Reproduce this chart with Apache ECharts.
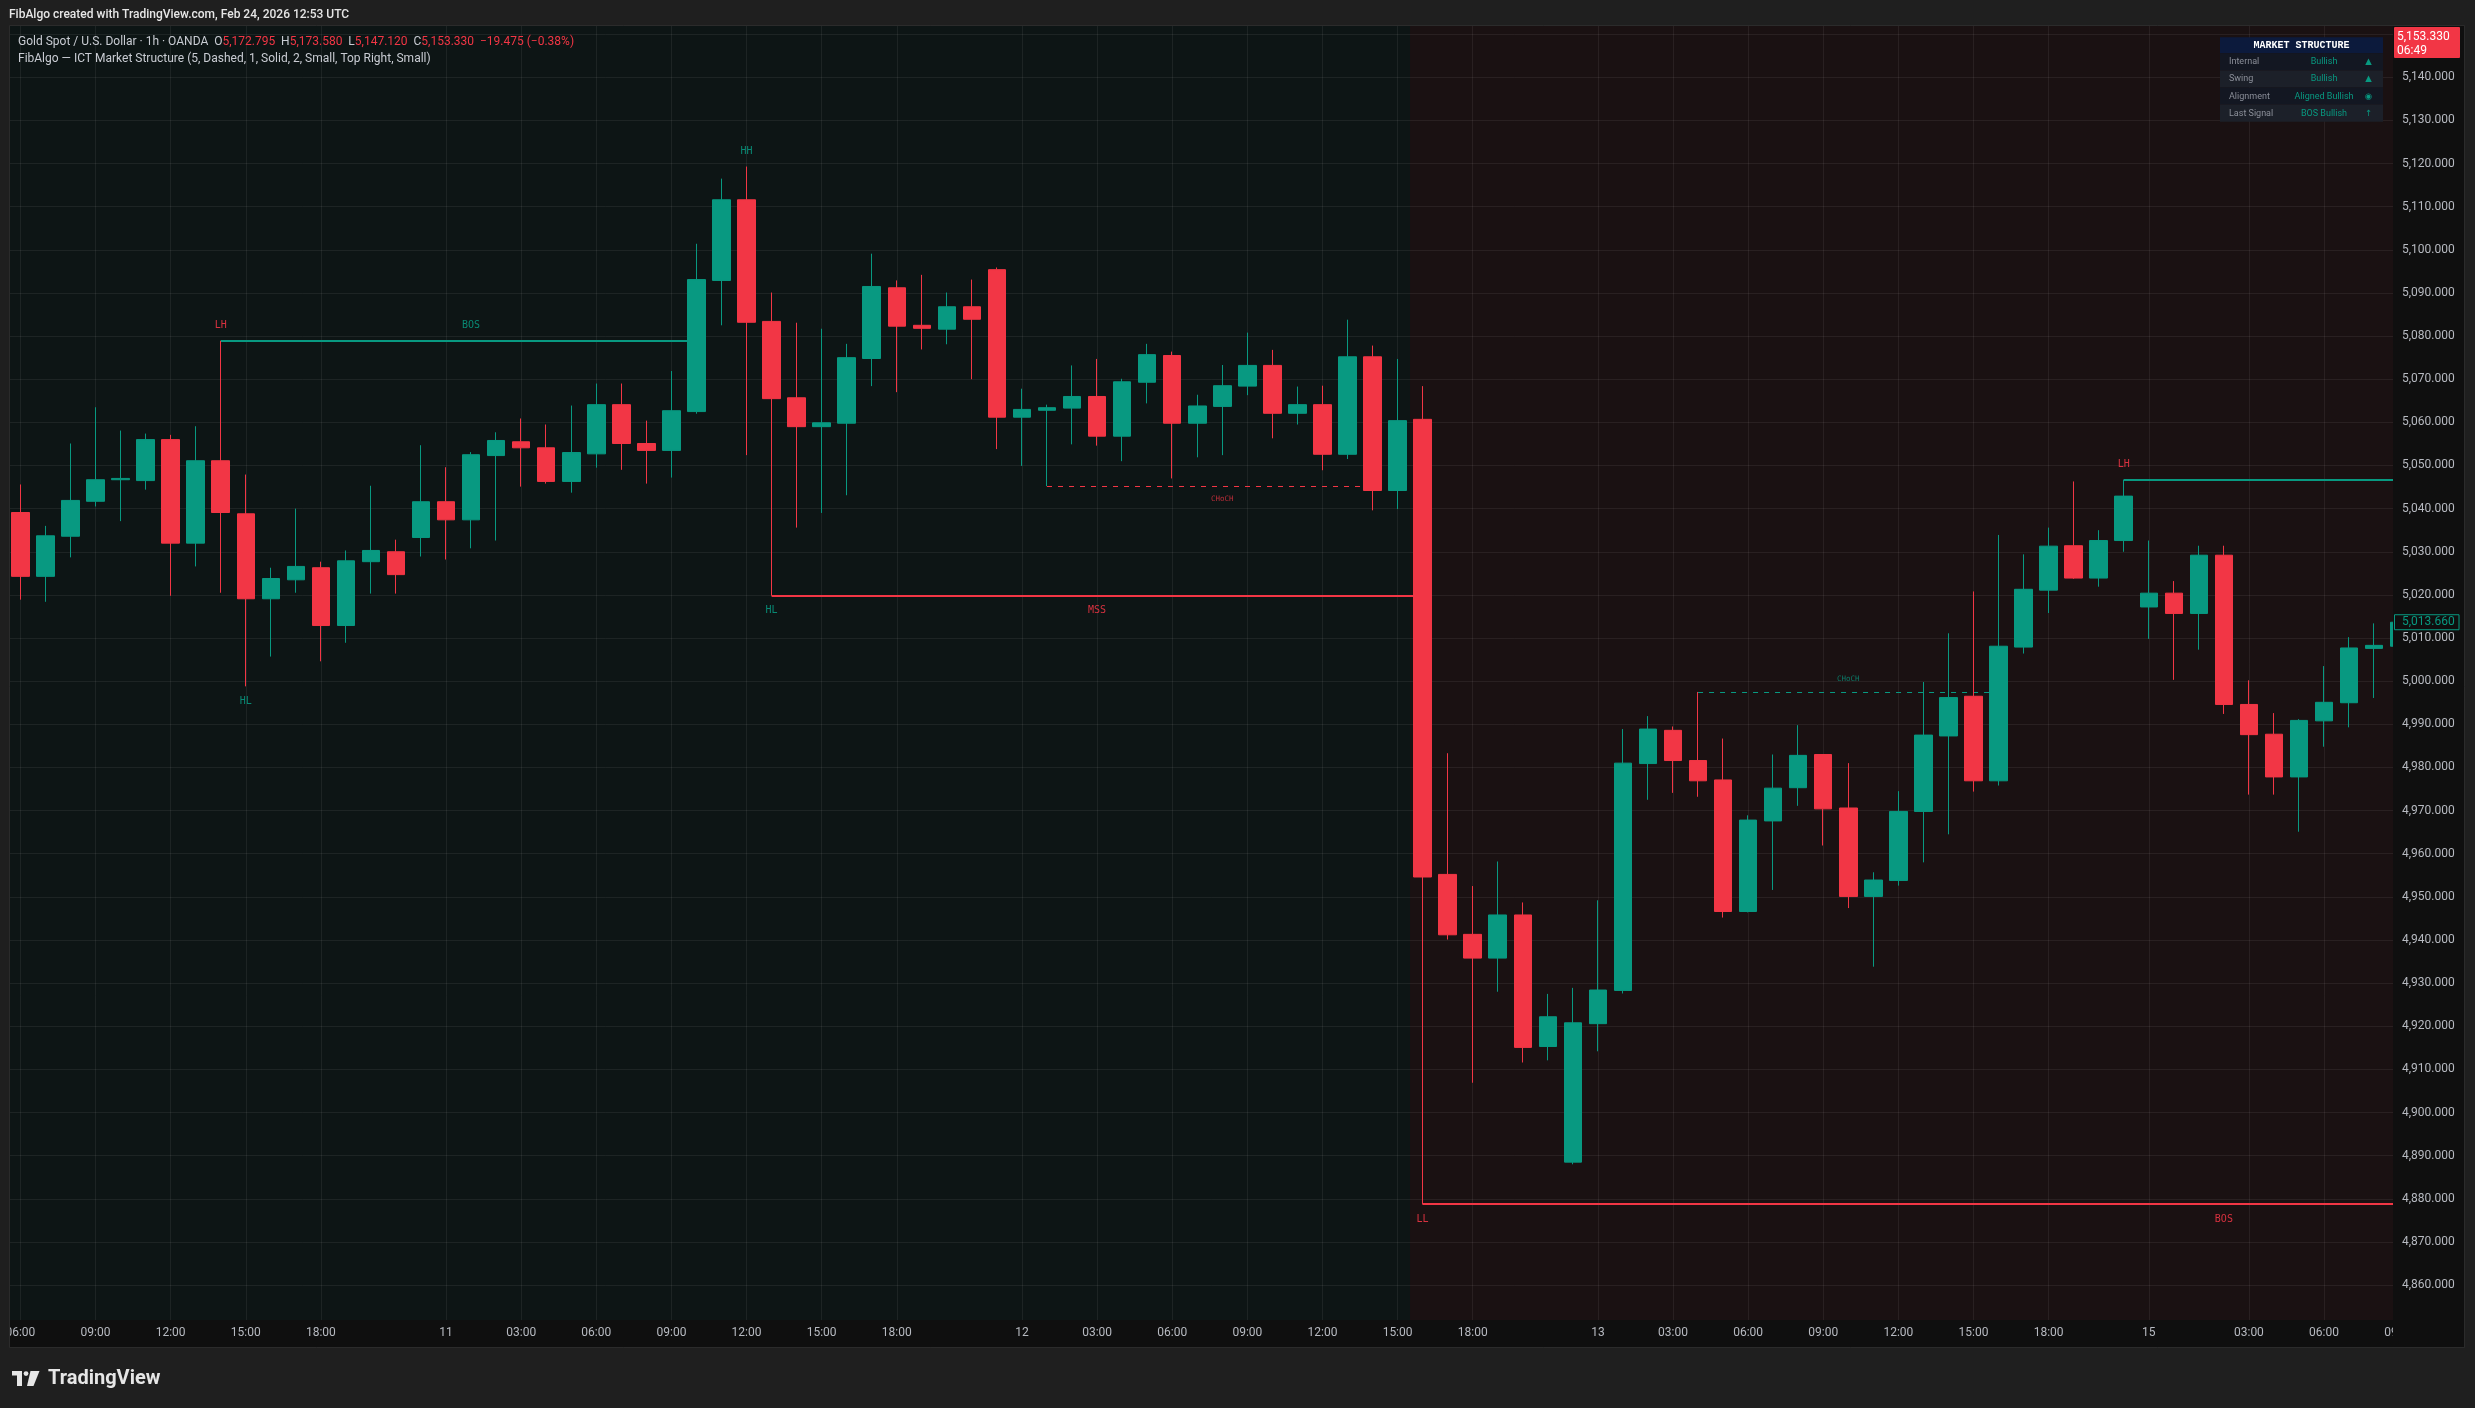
<!DOCTYPE html>
<html>
<head>
<meta charset="utf-8">
<script src="https://cdn.jsdelivr.net/npm/echarts@6/dist/echarts.min.js"></script>
<style>
html,body{margin:0;padding:0;background:#1f1f1f;overflow:hidden;}
#c{width:2475px;height:1408px;}
</style>
</head>
<body>
<div id="c"></div>
<script>
// ---------------- DATA ----------------
const opens = [5039.1,5024.3,5033.6,5041.7,5046.7,5046.5,5056.0,5032.0,5051.1,5038.8,
5019.1,5023.5,5026.3,5012.9,5027.7,5030.0,5033.3,5041.6,5037.4,5052.3,
5055.5,5054.1,5046.3,5052.7,5064.1,5055.1,5053.5,5062.5,5092.9,5111.6,
5083.4,5065.7,5059.0,5059.8,5074.8,5091.2,5082.5,5081.6,5086.8,5095.4,
5061.2,5062.8,5063.3,5066.0,5056.8,5069.3,5075.5,5059.8,5063.7,5068.4,
5073.2,5062.1,5064.1,5052.6,5075.2,5044.2,5060.7,4955.2,4941.3,4935.8,
4945.8,4915.3,4888.5,4920.6,4928.3,4980.9,4988.6,4981.6,4977.1,4946.6,
4967.6,4975.3,4983.0,4970.6,4950.1,4953.8,4969.8,4987.3,4996.5,4976.9,
5007.9,5021.1,5031.4,5023.9,5032.6,5017.2,5020.4,5015.7,5029.2,4994.6,
4987.7,4977.8,4990.8,4995.0,5007.6,5008.1];
const closes = [5024.3,5033.7,5041.9,5046.7,5047.0,5056.0,5032.0,5051.1,5039.1,5019.1,
5023.8,5026.6,5012.9,5027.9,5030.3,5024.7,5041.6,5037.4,5052.5,5055.8,
5054.1,5046.3,5053.0,5064.1,5055.1,5053.5,5062.7,5093.1,5111.6,5083.2,
5065.5,5059.0,5059.9,5075.0,5091.5,5082.3,5081.8,5086.8,5083.9,5061.2,
5063.0,5063.4,5066.0,5056.8,5069.4,5075.7,5059.8,5063.8,5068.5,5073.2,
5062.1,5064.1,5052.6,5075.2,5044.2,5060.4,4954.6,4941.2,4935.8,4945.8,
4915.1,4922.2,4920.8,4928.4,4981.0,4988.9,4981.6,4976.9,4946.6,4967.8,
4975.2,4982.8,4970.4,4950.1,4953.9,4969.8,4987.5,4996.2,4976.9,5008.1,
5021.3,5031.3,5023.9,5032.6,5042.9,5020.4,5015.7,5029.2,4994.6,4987.6,
4977.8,4990.9,4995.1,5007.7,5008.3,5013.66];
const lows = [5018.9,5018.4,5028.7,5040.5,5037.1,5044.4,5019.8,5026.6,5020.5,4998.8,
5005.7,5020.5,5004.6,5008.9,5020.3,5020.3,5028.9,5028.2,5030.8,5032.6,
5045.1,5045.8,5043.7,5049.5,5049.0,5045.8,5047.2,5062.0,5082.5,5052.4,
5019.8,5035.6,5039.0,5043.1,5068.4,5067.0,5076.9,5078.1,5070.0,5053.8,
5049.9,5045.2,5054.9,5054.6,5051.0,5064.4,5047.0,5051.9,5052.4,5066.3,
5056.3,5059.5,5048.9,5051.5,5039.6,5039.9,4878.7,4940.1,4906.9,4928.0,
4911.6,4912.1,4888.0,4914.2,4927.6,4972.5,4974.1,4973.2,4945.2,4946.4,
4951.6,4971.1,4961.9,4947.4,4933.8,4952.6,4958.0,4964.5,4974.4,4975.8,
5006.4,5015.8,5023.7,5021.9,5030.0,5009.8,5000.3,5007.3,4992.4,4973.7,
4973.7,4965.1,4984.8,4989.3,4996.1,5006.0];
const highs = [5045.6,5036.0,5055.1,5063.5,5058.1,5057.4,5057.1,5059.1,5078.9,5047.9,
5026.3,5040.0,5027.7,5030.3,5045.3,5032.8,5054.7,5049.6,5053.1,5057.7,
5060.9,5059.5,5063.9,5069.0,5069.0,5060.4,5071.9,5101.4,5116.5,5119.3,
5090.1,5083.1,5081.7,5078.2,5099.1,5092.9,5094.2,5090.1,5093.1,5095.9,
5067.8,5064.1,5073.2,5074.7,5070.1,5078.2,5076.4,5066.4,5073.3,5080.8,
5076.8,5068.3,5068.5,5083.8,5077.8,5074.7,5068.4,4983.3,4952.5,4958.2,
4948.7,4927.5,4928.9,4949.2,4988.9,4991.9,4989.5,4997.5,4986.7,4968.9,
4983.0,4989.8,4983.1,4981.0,4955.7,4974.5,4999.8,5011.1,5020.8,5033.9,
5029.4,5035.6,5046.3,5035.0,5046.7,5032.6,5023.2,5031.4,5031.4,5000.2,
4992.6,4991.2,5003.5,5010.2,5013.4,5016.0];

// time-axis tick labels (bar index -> text)
const tickIndex = [1,4,7,10,13,18,21,24,27,30,33,36,41,44,47,50,53,56,59,64,67,70,73,76,79,82,86,90,93,96];
const tickText  = ['06:00','09:00','12:00','15:00','18:00','11','03:00','06:00','09:00','12:00','15:00','18:00',
                   '12','03:00','06:00','09:00','12:00','15:00','18:00','13','03:00','06:00','09:00','12:00',
                   '15:00','18:00','15','03:00','06:00','09:00'];

// price axis
const priceMin = 4850, priceMax = 5160, priceStep = 10;

// trend background zones [fromBar, toBar]
const zoneSpan = [[0, 56], [57, 97]];
const zoneBias = ['bull', 'bear'];

// structure lines [fromBar, toBar, price]
const structLines = [[9, 28, 5078.9], [31, 57, 5019.8], [42, 56, 5045.2], [57, 97, 4878.7], [68, 80, 4997.5], [85, 97, 5046.7]];
const structBias  = ['bull', 'bear', 'bear', 'bear', 'bull', 'bull'];
const structKind  = ['BOS', 'MSS', 'CHoCH', 'BOS', 'CHoCH', 'BOS'];

// structure texts [spanFrom, spanTo, price]
const structTextAt   = [[9, 29, 5078.9], [31, 57, 5019.8], [42, 56, 5045.2], [89, 89, 4878.7], [68, 80, 4997.5]];
const structText     = ['BOS', 'MSS', 'CHoCH', 'BOS', 'CHoCH'];
const structTextBias = ['bull', 'bear', 'bear', 'bear', 'bull'];
const structTextSide = ['above', 'below', 'below', 'below', 'above'];

// swing point labels
const swingAt    = [9, 10, 30, 31, 57, 85];
const swingPrice = [5078.9, 4998.8, 5119.3, 5019.8, 4878.7, 5046.7];
const swingText  = ['LH', 'HL', 'HH', 'HL', 'LL', 'LH'];

// price tags
const lastPrice = 5013.66;

// ---------------- BUILD ----------------
const BULL = '#089981', BEAR = '#f23645';
const col = b => b === 'bull' ? BULL : BEAR;
const categories = Array.from({length: 98}, (_, i) => String(i));
const tickMap = {}; tickIndex.forEach((t, k) => tickMap[t] = tickText[k]);
const candles = opens.map((o, k) => [k + 1, o, closes[k], lows[k], highs[k]]);
const fmtPrice = v => v.toLocaleString('en-US', {minimumFractionDigits: 3, maximumFractionDigits: 3});

const labelData = [], labelMeta = [];
swingAt.forEach((a, k) => {
  labelData.push([a, a, swingPrice[k]]);
  const t = swingText[k];
  labelMeta.push({text: t, color: (t === 'HH' || t === 'HL') ? BULL : BEAR, side: t[1] === 'H' ? 'above' : 'below', small: false});
});
structTextAt.forEach((s, k) => {
  labelData.push(s.slice());
  labelMeta.push({text: structText[k], color: col(structTextBias[k]), side: structTextSide[k], small: structText[k] === 'CHoCH'});
});

const GRID = 'rgba(255,255,255,0.065)';
const chart = echarts.init(document.getElementById('c'), null, {width: 2475, height: 1408});

const option = {
  animation: false,
  backgroundColor: '#1f1f1f',
  grid: {left: -4.64, top: -9.0, width: 2428.84, height: 1337.2, containLabel: false, outerBoundsMode: 'none'},
  xAxis: [
    {type: 'category', data: categories, boundaryGap: false, z: 0,
     axisLine: {show: false}, axisTick: {show: false}, axisLabel: {show: false},
     splitLine: {show: true, interval: (i) => tickMap[i] !== undefined, lineStyle: {color: GRID, width: 1}}},
    {type: 'category', data: categories, boundaryGap: false, position: 'bottom', z: 20,
     axisLine: {show: false}, axisTick: {show: false}, splitLine: {show: false},
     axisLabel: {show: true, interval: (i) => tickMap[i] !== undefined, formatter: (v, i) => tickMap[i] || '',
       color: '#b7bac1', fontSize: 12, fontFamily: 'Roboto', margin: 5, verticalAlign: 'middle'}}
  ],
  yAxis: [
    {type: 'value', min: priceMin, max: priceMax, interval: priceStep, position: 'right', z: 0,
     axisLine: {show: false}, axisTick: {show: false}, axisLabel: {show: false},
     splitLine: {show: true, lineStyle: {color: GRID, width: 1}}},
    {type: 'value', min: priceMin, max: priceMax, interval: priceStep, position: 'right', offset: -31.2, z: 30,
     axisLine: {show: false}, axisTick: {show: false}, splitLine: {show: false},
     axisLabel: {show: true, margin: 9, color: '#b7bac1', fontSize: 12, fontFamily: 'Roboto',
       formatter: v => (v >= 4855 && v <= 5145) ? fmtPrice(v) : ''}}
  ],
  series: [
    { // trend background zones
      type: 'custom', z: -2, silent: true, clip: true,
      data: zoneSpan.map(s => s.slice()),
      encode: {x: [0, 1]},
      renderItem: (params, api) => {
        const i = params.dataIndex;
        const c0 = api.coord([0, 5000])[0], c1 = api.coord([1, 5000])[0];
        const bw = c1 - c0;
        const xa = api.coord([api.value(0), 5000])[0] - bw / 2;
        const xb = api.coord([api.value(1), 5000])[0] + bw / 2;
        const cs = params.coordSys;
        return {type: 'rect', shape: {x: xa, y: cs.y, width: xb - xa, height: cs.height},
                style: {fill: zoneBias[i] === 'bull' ? '#0d1515' : '#1a1112'}};
      }
    },
    { // structure lines
      type: 'custom', z: 1, silent: true, clip: true,
      data: structLines.map(s => s.slice()),
      encode: {x: [0, 1], y: 2},
      renderItem: (params, api) => {
        const i = params.dataIndex;
        const p1 = api.coord([api.value(0), api.value(2)]);
        const p2 = api.coord([api.value(1), api.value(2)]);
        const dashed = structKind[i] === 'CHoCH';
        const y = dashed ? Math.round(p1[1]) + 0.5 : Math.round(p1[1]);
        return {type: 'line', shape: {x1: p1[0], y1: y, x2: p2[0], y2: y},
                style: {stroke: col(structBias[i]), lineWidth: dashed ? 1 : 2, lineDash: dashed ? [5, 6] : null}};
      }
    },
    {
      type: 'candlestick', z: 2, clip: true, barWidth: 18,
      data: candles,
      encode: {x: 0, y: [1, 2, 3, 4]},
      itemStyle: {color: BULL, color0: BEAR, borderColor: BULL, borderColor0: BEAR, borderWidth: 1}
    },
    { // labels
      type: 'custom', z: 3, silent: true, clip: false,
      data: labelData,
      encode: {x: [0, 1], y: 2},
      renderItem: (params, api) => {
        const m = labelMeta[params.dataIndex];
        const pa = api.coord([api.value(0), api.value(2)]);
        const pb = api.coord([api.value(1), api.value(2)]);
        const x = (pa[0] + pb[0]) / 2;
        const off = m.small ? 12.5 : 15;
        const y = m.side === 'above' ? pa[1] - off : pa[1] + off;
        return {type: 'text', x: x, y: y,
          style: {text: m.text, fill: m.color, opacity: m.small ? 0.75 : 0.88,
                  fontSize: m.small ? 7.5 : 10, fontFamily: 'DejaVu Sans Mono',
                  align: 'center', verticalAlign: 'middle'}};
      }
    }
  ]
};
chart.setOption(option);

// ---------------- OVERLAY / FRAME ----------------
const yLast = chart.convertToPixel({yAxisIndex: 0}, lastPrice);
const OUT = '#1f1f1f', AXISBG = '#0f0f0f', BORDER = '#2b2b2b';
const legendRich = {
  a: {fill: '#c9ccd3', fontSize: 12, fontFamily: 'Roboto'},
  r: {fill: BEAR, fontSize: 12, fontFamily: 'Roboto'}
};
const tbl = [
  ['Internal', 'Bullish', '▲'],
  ['Swing', 'Bullish', '▲'],
  ['Alignment', 'Aligned Bullish', '◉'],
  ['Last Signal', 'BOS Bullish', '↑']
];
const g = [
  // time band
  {type: 'rect', z: 10, shape: {x: 10, y: 1320, width: 2383, height: 27}, style: {fill: AXISBG}},
  // price column
  {type: 'rect', z: 25, shape: {x: 2393, y: 26, width: 71, height: 1321}, style: {fill: AXISBG}},
  // outer frame pieces
  {type: 'rect', z: 25, shape: {x: 0, y: 0, width: 2475, height: 26}, style: {fill: OUT}},
  {type: 'rect', z: 25, shape: {x: 0, y: 0, width: 10, height: 1408}, style: {fill: OUT}},
  {type: 'rect', z: 25, shape: {x: 0, y: 1347, width: 2475, height: 61}, style: {fill: OUT}},
  {type: 'rect', z: 25, shape: {x: 2464, y: 0, width: 11, height: 1408}, style: {fill: OUT}},
  // borders
  {type: 'line', z: 26, shape: {x1: 9.5, y1: 25.5, x2: 2464.5, y2: 25.5}, style: {stroke: BORDER, lineWidth: 1}},
  {type: 'line', z: 26, shape: {x1: 9.5, y1: 25.5, x2: 9.5, y2: 1347.5}, style: {stroke: BORDER, lineWidth: 1}},
  {type: 'line', z: 26, shape: {x1: 9.5, y1: 1347.5, x2: 2464.5, y2: 1347.5}, style: {stroke: BORDER, lineWidth: 1}},
  {type: 'line', z: 26, shape: {x1: 2464.5, y1: 25.5, x2: 2464.5, y2: 1347.5}, style: {stroke: BORDER, lineWidth: 1}},
  // header
  {type: 'text', z: 35, x: 9, y: 14.5, style: {text: 'FibAlgo created with TradingView.com, Feb 24, 2026 12:53 UTC',
     fill: '#e6e6e6', fontSize: 12, fontWeight: 500, fontFamily: 'Roboto', align: 'left', verticalAlign: 'middle'}},
  // legend
  {type: 'text', z: 35, x: 18, y: 42, style: {
     text: '{a|Gold Spot / U.S. Dollar · 1h · OANDA  O}{r|5,172.795}{a|  H}{r|5,173.580}{a|  L}{r|5,147.120}{a|  C}{r|5,153.330  −19.475 (−0.38%)}',
     rich: legendRich, align: 'left', verticalAlign: 'middle'}},
  {type: 'text', z: 35, x: 18, y: 59, style: {text: 'FibAlgo — ICT Market Structure (5, Dashed, 1, Solid, 2, Small, Top Right, Small)',
     fill: '#c9ccd3', fontSize: 12, fontFamily: 'Roboto', align: 'left', verticalAlign: 'middle'}},
  // current price tag (top)
  {type: 'rect', z: 35, shape: {x: 2394, y: 27, width: 66, height: 31, r: 1}, style: {fill: BEAR}},
  {type: 'text', z: 36, x: 2397, y: 36.5, style: {text: '5,153.330', fill: '#ffffff', fontSize: 12, fontFamily: 'Roboto', align: 'left', verticalAlign: 'middle'}},
  {type: 'text', z: 36, x: 2397, y: 51, style: {text: '06:49', fill: '#ffffff', fontSize: 12, fontFamily: 'Roboto', align: 'left', verticalAlign: 'middle'}},
  // last bar price tag
  {type: 'rect', z: 35, shape: {x: 2394.5, y: yLast - 7.5, width: 64.5, height: 15}, style: {fill: AXISBG, stroke: BULL, lineWidth: 1}},
  {type: 'text', z: 36, x: 2402, y: yLast, style: {text: fmtPrice(lastPrice), fill: BULL, fontSize: 12, fontFamily: 'Roboto', align: 'left', verticalAlign: 'middle'}},
  // table
  {type: 'rect', z: 35, shape: {x: 2220, y: 37.3, width: 163, height: 16}, style: {fill: '#0c1a3c'}},
  {type: 'text', z: 36, x: 2301.5, y: 45.6, style: {text: 'MARKET STRUCTURE', fill: '#ffffff', fontSize: 10, fontWeight: 'bold',
     fontFamily: 'Liberation Mono', align: 'center', verticalAlign: 'middle'}},
  // logo
  {type: 'rect', z: 30, shape: {x: 12, y: 1371, width: 10, height: 4.5}, style: {fill: '#e6e6e6'}},
  {type: 'rect', z: 30, shape: {x: 17, y: 1371, width: 5, height: 15}, style: {fill: '#e6e6e6'}},
  {type: 'circle', z: 30, shape: {cx: 26, cy: 1373.6, r: 2.4}, style: {fill: '#e6e6e6'}},
  {type: 'polygon', z: 30, shape: {points: [[30.5, 1371], [39.5, 1371], [33.5, 1386], [27, 1386]]}, style: {fill: '#e6e6e6'}},
  {type: 'text', z: 30, x: 48, y: 1378.5, style: {text: 'TradingView', fill: '#e6e6e6', fontSize: 20, fontWeight: 'bold',
     fontFamily: 'Roboto', align: 'left', verticalAlign: 'middle'}}
];
tbl.forEach((row, k) => {
  const y0 = 53.3 + k * 17.1;
  g.push({type: 'rect', z: 35, shape: {x: 2220, y: y0, width: 163, height: 17.1}, style: {fill: k % 2 === 0 ? '#131722' : '#1c2029'}});
  g.push({type: 'text', z: 36, x: 2229, y: y0 + 8.8, style: {text: row[0], fill: '#8b8f99', fontSize: 9, fontFamily: 'Roboto', align: 'left', verticalAlign: 'middle'}});
  g.push({type: 'text', z: 36, x: 2324, y: y0 + 8.8, style: {text: row[1], fill: BULL, fontSize: 9, fontFamily: 'Roboto', align: 'center', verticalAlign: 'middle'}});
  g.push({type: 'text', z: 36, x: 2368.5, y: y0 + 8.8, style: {text: row[2], fill: BULL, fontSize: 8.5, fontFamily: 'DejaVu Sans', align: 'center', verticalAlign: 'middle'}});
});
chart.setOption({graphic: {elements: g}});
</script>
</body>
</html>
